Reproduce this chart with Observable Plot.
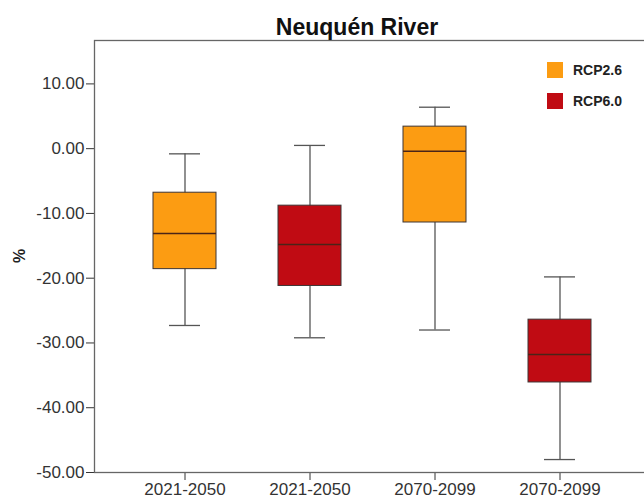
<!DOCTYPE html>
<html>
<head>
<meta charset="utf-8">
<script src="https://cdn.jsdelivr.net/npm/d3@7"></script>
<script src="https://cdn.jsdelivr.net/npm/@observablehq/plot@0.6"></script>
<style>
  html, body { margin: 0; padding: 0; background: #ffffff; }
  #wrap { position: relative; width: 644px; height: 500px; overflow: hidden; font-family: "Liberation Sans", Arial, sans-serif; }
  #title { position: absolute; left: 0; width: 714px; top: 16px; text-align: center; font-size: 23px; line-height: 23px; font-weight: bold; color: #111; }
  #ylab { position: absolute; left: 20px; top: 256px; transform: translate(-50%, -50%) rotate(-90deg); font-size: 16px; font-weight: bold; color: #222; }
  .leg { position: absolute; left: 547px; display: flex; align-items: center; font-size: 14px; font-weight: bold; color: #222; }
  .leg span.sw { display: inline-block; width: 16px; height: 16px; margin-right: 10px; }
  #chart svg text { font-size: 17px; fill: #333; }
</style>
</head>
<body>
<div id="wrap">
  <div id="chart"></div>
  <div id="title">Neuquén River</div>
  <div id="ylab">%</div>
  <div id="legend"></div>
</div>
<script>
// Data
const periods = ["2021-2050", "2021-2050", "2070-2099", "2070-2099"];
const scenarios = ["RCP2.6", "RCP6.0", "RCP2.6", "RCP6.0"];
const whiskerLow = [-27.3, -29.2, -28.0, -48.0];
const q1 = [-18.6, -21.2, -11.4, -36.1];
const median = [-13.1, -14.8, -0.4, -31.8];
const q3 = [-6.8, -8.8, 3.4, -26.4];
const whiskerHigh = [-0.8, 0.5, 6.4, -19.8];
const yTicks = [-50, -40, -30, -20, -10, 0, 10];
const legendKeys = ["RCP2.6", "RCP6.0"];
const legendColors = ["#fc9c12", "#c00b13"];

const rows = periods.map((p, i) => ({
  key: i, period: p, scenario: scenarios[i],
  lo: whiskerLow[i], q1: q1[i], med: median[i], q3: q3[i], hi: whiskerHigh[i]
}));

const chart = Plot.plot({
  width: 644,
  height: 500,
  marginLeft: 94,
  marginRight: -6,
  marginTop: 40,
  marginBottom: 28,
  style: { fontFamily: "Liberation Sans, Arial, sans-serif", fontSize: "17px", color: "#333", background: "white" },
  x: {
    domain: rows.map(d => d.key),
    paddingInner: 0.5,
    paddingOuter: 0.4725,
    tickFormat: i => periods[i],
    tickSize: 8,
    tickPadding: 2,
    label: null
  },
  y: {
    domain: [-50, 16.7],
    ticks: yTicks,
    tickFormat: d => d.toFixed(2),
    tickSize: 8,
    tickPadding: 2,
    label: null
  },
  color: { domain: legendKeys, range: legendColors },
  marks: [
    Plot.ruleX(rows, { x: "key", y1: "lo", y2: "hi", stroke: "#555", strokeWidth: 1.3 }),
    Plot.tickY(rows, { x: "key", y: "lo", stroke: "#555", strokeWidth: 1.3, insetLeft: 16, insetRight: 16 }),
    Plot.tickY(rows, { x: "key", y: "hi", stroke: "#555", strokeWidth: 1.3, insetLeft: 16, insetRight: 16 }),
    Plot.barY(rows, { x: "key", y1: "q1", y2: "q3", fill: "scenario", stroke: "#3d3535", strokeWidth: 1 }),
    Plot.tickY(rows, { x: "key", y: "med", stroke: "#4a2418", strokeWidth: 1.5 }),
    Plot.frame({ stroke: "#666", strokeWidth: 1.3 })
  ]
});
document.getElementById("chart").appendChild(chart);

const leg = document.getElementById("legend");
const legTops = [62, 93];
legendKeys.forEach((k, i) => {
  const div = document.createElement("div");
  div.className = "leg";
  div.style.top = legTops[i] + "px";
  const sw = document.createElement("span");
  sw.className = "sw";
  sw.style.background = legendColors[i];
  div.appendChild(sw);
  div.appendChild(document.createTextNode(k));
  leg.appendChild(div);
});
</script>
</body>
</html>
